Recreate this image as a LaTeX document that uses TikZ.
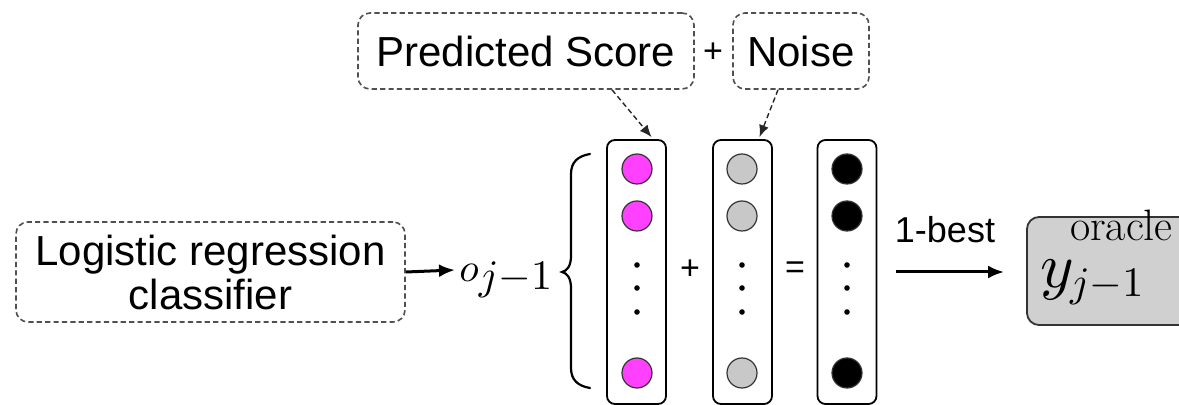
\documentclass[tikz,border=0pt]{standalone}
\usepackage{fontspec}
\usepackage{graphicx}
\newfontfamily\hv{Liberation Sans}
\usetikzlibrary{arrows.meta,calc}
\definecolor{mag}{HTML}{FF40FF}
\definecolor{lgray}{HTML}{C8C8C8}
\definecolor{boxgray}{HTML}{D0D0D0}
\definecolor{dashgray}{HTML}{505050}
\tikzset{
 dbox/.style={draw=dashgray, dash pattern=on 2.6pt off 1.6pt, line width=0.8pt, rounded corners=6pt, inner sep=0pt, align=center, font=\hv\fontsize{21}{22}\selectfont},
 colbox/.style={draw, line width=0.9pt, rounded corners=4pt, minimum width=29.5pt, minimum height=132pt, inner sep=0pt},
 unit/.style={circle, draw=black!80, line width=0.6pt, minimum size=15pt, inner sep=0pt},
 dotn/.style={circle, fill=black, minimum size=2.8pt, inner sep=0pt},
 op/.style={font=\hv\fontsize{17}{17}\selectfont, inner sep=0pt},
 thickarrow/.style={-{Latex[length=8pt,width=6.5pt]}, line width=1.5pt},
 dasharrow/.style={-{Latex[length=6pt,width=5pt]}, dash pattern=on 2.6pt off 1.6pt, line width=0.7pt, draw=black!85},
 bracestyle/.style={line width=1.1pt, line cap=round},
}
\begin{document}
\begin{tikzpicture}[x=0.5pt,y=-0.5pt]
\useasboundingbox (0,0) rectangle (1179,405);
\clip (0,0) rectangle (1179,405);
% top boxes
\node[dbox, minimum width=168pt, minimum height=38pt] (pred) at (526,51) {Predicted Score};
\node[dbox, minimum width=68pt, minimum height=38pt] (noise) at (801,51) {Noise};
\node[op] (ptop) at (713,53) {+};
% left box
\node[dbox, minimum width=194.5pt, minimum height=50pt] (logi) at (210.5,272) {Logistic regression\\classifier};
% o_{j-1}
\node[anchor=base west, inner sep=0pt] (o) at (459,282) {\scalebox{2.0}{$o$}\raisebox{-4pt}{\scalebox{2.1}{$j{-}1$}}};
% brace
\draw[bracestyle] (590,154) .. controls (578,156) and (571,162) .. (571,174) -- (571,256)
  .. controls (571,266) and (567,271) .. (562,272)
  .. controls (567,273) and (571,278) .. (571,288) -- (571,368)
  .. controls (571,380) and (578,386) .. (590,388);
% columns
\node[colbox] (c1) at (636.5,272) {};
\node[colbox] (c2) at (742.5,272) {};
\node[colbox] (c3) at (847,272) {};
\foreach \n/\x/\f in {a/637/mag, b/742/lgray, c/847/black}{
  \node[unit, fill=\f] (u\n1) at (\x,169) {};
  \node[unit, fill=\f] (u\n2) at (\x,216) {};
  \node[unit, fill=\f] (u\n3) at (\x,373) {};
  \node[dotn] (d\n1) at (\x,265) {};
  \node[dotn] (d\n2) at (\x,288) {};
  \node[dotn] (d\n3) at (\x,312) {};
}
\node[op] (pmid) at (690,270) {+};
\node[op] (eq) at (795,270) {=};
% oracle box
\node[draw=black!80, fill=boxgray, line width=0.9pt, rounded corners=6pt, minimum width=106.5pt, minimum height=54pt, inner sep=0pt] (orc) at (1133.5,271) {};
\node[anchor=base west, inner sep=0pt] (yv) at (1040,288) {\scalebox{3.2}{$y$}\kern-2pt\rlap{\raisebox{23.5pt}{\fontsize{22}{22}\selectfont oracle}}\raisebox{-4.5pt}{\scalebox{2.1}{$j{-}1$}}};
% arrows
\draw[thickarrow] (logi.east) -- ($(o.base west)+(-4,-12)$);
\draw[thickarrow, shorten <=9.5pt, shorten >=11pt] (c3.east |- 0,272) -- (orc.west |- 0,272);
\node[font=\hv\fontsize{18}{18}\selectfont, anchor=base, inner sep=0pt] (best) at (945,243) {1-best};
\draw[dasharrow] ($(pred.south)+(86,0)$) -- ($(c1.north)+(15,-2)$);
\draw[dasharrow] ($(noise.south)+(-23,0)$) -- ($(c2.north)+(17,-2)$);
\end{tikzpicture}
\end{document}
